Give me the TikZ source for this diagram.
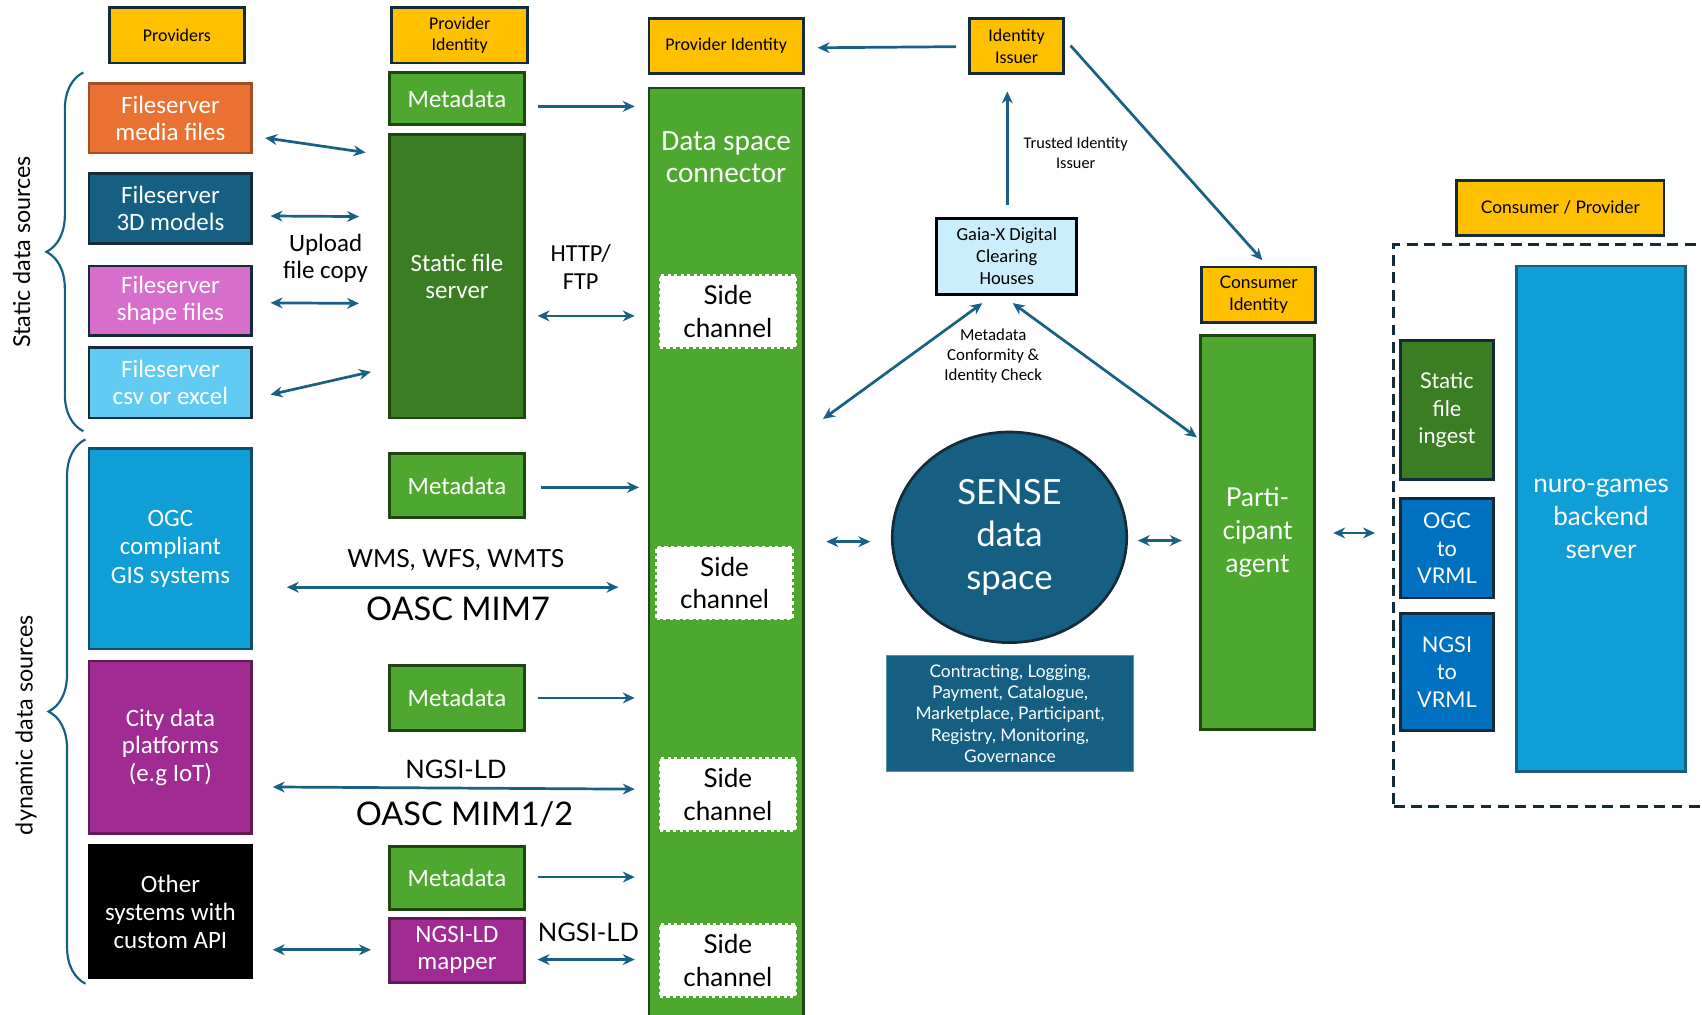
\documentclass[tikz,border=0pt]{standalone}
\usepackage{fontspec}
\setmainfont{Carlito}
\newfontfamily\aptos{Lato}
\usetikzlibrary{arrows.meta, shapes.geometric, calc, decorations.pathreplacing}

\definecolor{idyellow}{RGB}{255,192,0}
\definecolor{navy}{RGB}{22,43,58}
\definecolor{arrowblue}{RGB}{24,96,132}
\definecolor{mediaorange}{RGB}{233,113,50}
\definecolor{modelblue}{RGB}{21,96,130}
\definecolor{shapepink}{RGB}{216,110,204}
\definecolor{csvblue}{RGB}{97,203,243}
\definecolor{gisblue}{RGB}{15,158,213}
\definecolor{citypurple}{RGB}{160,43,147}
\definecolor{metagreen}{RGB}{78,167,46}
\definecolor{darkgreen}{RGB}{59,125,35}
\definecolor{edgegreen}{RGB}{30,70,18}
\definecolor{gaiablue}{RGB}{202,238,251}
\definecolor{vrmlblue}{RGB}{0,112,192}

\tikzset{> = { Stealth[length = 11pt, width = 10pt] }}
\tikzstyle{box} = [draw, rectangle, line width = 2.5pt, inner sep = 0pt, align = center, text = white, font = \fontsize{23}{25}\selectfont]
\tikzstyle{idbox} = [box, fill = idyellow, draw = navy, text = black, font = \fontsize{16.5}{20}\selectfont]
\tikzstyle{source} = [box, minimum width = 150pt]
\tikzstyle{meta} = [box, fill = metagreen, draw = edgegreen, minimum width = 124pt]
\tikzstyle{sidebox} = [box, fill = white, draw = white, dashed, text = black, minimum width = 125pt, minimum height = 66pt, font = \aptos\fontsize{24}{30}\selectfont]
\tikzstyle{link} = [<->, line width = 2.5pt, draw = arrowblue]
\tikzstyle{feed} = [->, line width = 2.5pt, draw = arrowblue]
\tikzstyle{curly} = [draw = modelblue, line width = 2pt, decorate, decoration = {brace, amplitude = 34pt}]

\begin{document}
\begin{tikzpicture}[x = 1pt, y = -1pt]
	\useasboundingbox (0, 0) rectangle (1568, 935);

	% Identities.
	\node [idbox, minimum width = 124pt, minimum height = 51pt] (providers) at (163, 32.5) {Providers};
	\node [idbox, minimum width = 125pt, minimum height = 51pt] (provid) at (423.5, 32.5) {Provider\\Identity};
	\node [idbox, minimum width = 142pt, minimum height = 51pt] (dscid) at (669, 42.5) {Provider Identity};
	\node [idbox, minimum width = 87pt, minimum height = 51pt] (issuer) at (936.5, 42.5) {Identity\\Issuer};
	\node [idbox, minimum width = 191pt, minimum height = 51pt, font = \aptos\fontsize{16}{20}\selectfont] (conprov) at (1437.5, 191.5) {Consumer / Provider};
	\node [idbox, minimum width = 105pt, minimum height = 51pt, font = \aptos\fontsize{16}{20}\selectfont] (conid) at (1159.5, 271.5) {Consumer\\Identity};

	% Static sources.
	\node [source, fill = mediaorange, draw = mediaorange!70!black, minimum height = 64pt] (media) at (157, 109) {Fileserver\\media files};
	\node [source, fill = modelblue, draw = navy, minimum height = 64pt] (models) at (157, 192) {Fileserver\\3D models};
	\node [source, fill = shapepink, draw = navy, minimum height = 64pt] (shape) at (157, 277) {Fileserver\\shape files};
	\node [source, fill = csvblue, draw = navy, minimum height = 65pt] (csv) at (157, 352.5) {Fileserver\\csv or excel};

	% Dynamic sources.
	\node [source, fill = gisblue, draw = modelblue!80!black, minimum height = 185pt, font = \fontsize{23}{26}\selectfont] (ogc) at (157, 505.5) {OGC\\compliant\\GIS systems};
	\node [source, fill = citypurple, draw = citypurple!60!black, minimum height = 159pt] (city) at (157, 688.5) {City data\\platforms\\(e.g IoT)};
	\node [source, fill = black, draw = black, minimum height = 122pt, font = \fontsize{23}{26}\selectfont] (other) at (157, 840) {Other\\systems with\\custom API};

	\draw [curly] ($(csv.south west) + (-4, 11)$) to ($(media.north west) + (-4, -9)$);
	\draw [curly] ($(other.south west) + (-2, 4)$) to ($(ogc.north west) + (-2, -7)$);
	\node [rotate = 90, font = \aptos\fontsize{21.5}{25}\selectfont] (staticlbl) at (20, 232) {Static data sources};
	\node [rotate = 90, font = \aptos\fontsize{21.5}{25}\selectfont] (dynlbl) at (24, 668) {dynamic data sources};

	% Metadata and servers.
	\node [meta, minimum height = 48pt] (meta1) at (421, 91) {Metadata};
	\node [box, fill = darkgreen, draw = edgegreen, minimum width = 124pt, minimum height = 261pt] (sfs) at (421, 254.5) {Static file\\server};
	\node [meta, minimum height = 59pt] (meta2) at (421, 447.5) {Metadata};
	\node [meta, minimum height = 60pt] (meta3) at (421, 643) {Metadata};
	\node [meta, minimum height = 58pt] (meta4) at (421, 809) {Metadata};
	\node [box, fill = citypurple, draw = citypurple!60!black, minimum width = 124pt, minimum height = 59pt] (mapper) at (421, 875.5) {NGSI-LD\\mapper};

	% Connector.
	\node [box, fill = metagreen, draw = edgegreen, minimum width = 142pt, minimum height = 869pt] (dsc) at (669, 515.5) {};
	\node [text = white, align = center, font = \fontsize{27}{30}\selectfont] (dsctitle) at (669, 145) {Data space\\connector};
	\node [sidebox] (side1) at (670.5, 287) {Side\\channel};
	\node [sidebox] (side2) at (667.5, 537) {Side\\channel};
	\node [sidebox] (side3) at (670.5, 732) {Side\\channel};
	\node [sidebox] (side4) at (670.5, 885) {Side\\channel};

	% Upload arrows.
	\draw [link] ($(media.east) + (11, 18)$) to ($(sfs.west) + (-21, -114)$);
	\draw [link] ($(models.east) + (16, 7)$) to ($(sfs.west) + (-27, -55)$);
	\draw [link] ($(shape.east) + (16, 2)$) to ($(sfs.west) + (-27, 25)$);
	\draw [link] ($(csv.east) + (16, 11)$) to ($(sfs.west) + (-16, 88)$);
	\node [align = center, font = \fontsize{23}{25}\selectfont] (upload) at (300, 238) {Upload\\file copy};

	% Into the connector.
	\draw [feed] ($(meta1.east) + (11, 7)$) to ($(meta1.east -| dsc.west) + (-12, 7)$);
	\draw [link] ($(sfs.east) + (11, 36.5)$) to ($(sfs.east -| dsc.west) + (-12, 36.5)$);
	\node [align = center, font = \fontsize{22.5}{25}\selectfont] (http) at (535, 246) {HTTP/\\FTP};
	\draw [feed] ($(meta2.east) + (14, 1.5)$) to ($(meta2.east -| dsc.west) + (-8, 1.5)$);
	\draw [link] ($(ogc.east) + (31, 35.5)$) to ($(ogc.east -| dsc.west) + (-27, 35.5)$);
	\node [font = \aptos\fontsize{23}{25}\selectfont] (wms) at (420, 516) {WMS, WFS, WMTS};
	\node [font = \aptos\fontsize{30}{34}\selectfont] (mim7) at (422, 561) {OASC MIM7};
	\draw [feed] ($(meta3.east) + (11, 0)$) to ($(meta3.east -| dsc.west) + (-12, 0)$);
	\draw [link] ($(city.east) + (18, 36.5)$) to ($(city.east -| dsc.west) + (-12, 38.5)$);
	\node [font = \aptos\fontsize{23.5}{25}\selectfont] (ngsi) at (420, 709) {NGSI-LD};
	\node [font = \aptos\fontsize{30}{34}\selectfont] (mim12) at (428, 750) {OASC MIM1/2};
	\draw [feed] ($(meta4.east) + (11, -1)$) to ($(meta4.east -| dsc.west) + (-12, -1)$);
	\draw [link] ($(other.east) + (18, 35)$) to ($(mapper.west) + (-16, -0.5)$);
	\draw [link] ($(mapper.east) + (11, 8.5)$) to ($(mapper.east -| dsc.west) + (-12, 8.5)$);
	\node [font = \aptos\fontsize{23.5}{25}\selectfont] (ngsi2) at (542, 859) {NGSI-LD};

	% Clearing house.
	\node [box, fill = gaiablue, draw = black, text = black, minimum width = 129pt, minimum height = 70pt, font = \fontsize{17}{20}\selectfont] (gaia) at (927.5, 236) {Gaia-X Digital\\Clearing\\Houses};
	\draw [feed] ($(issuer.west) + (-11, 0.5)$) to ($(dscid.east) + (12, 1.5)$);
	\draw [feed] ($(gaia.north) + (0.5, -11)$) to ($(issuer.south) + (-8.5, 15)$);
	\node [align = center, font = \fontsize{15}{19}\selectfont] (trusted) at (991, 141) {Trusted Identity\\Issuer};
	\draw [feed] ($(issuer.east) + (5, -0.5)$) to ($(conid.north) + (3.5, -5)$);

	% Data space.
	\node [ellipse, draw = navy, line width = 2.5pt, fill = modelblue, text = white, minimum width = 216pt, minimum height = 194pt, inner sep = 0pt, align = center, font = \aptos\fontsize{32}{39}\selectfont] (sense) at (930, 495) {SENSE\\data\\space};
	\node [box, fill = modelblue, draw = modelblue!70!white, line width = 1pt, minimum width = 227pt, minimum height = 107pt, font = \aptos\fontsize{16}{19.5}\selectfont] (services) at (930.5, 657.5) {Contracting, Logging,\\Payment, Catalogue,\\Marketplace, Participant,\\Registry, Monitoring,\\Governance};
	\node [box, fill = metagreen, draw = edgegreen, minimum width = 105pt, minimum height = 363pt, font = \aptos\fontsize{24}{30.5}\selectfont] (agent) at (1158.5, 490.5) {Parti-\\cipant\\agent};

	\draw [link] ($(gaia.south) + (-22.5, 7)$) to ($(dsc.east) + (17, -129.5)$);
	\draw [link] ($(gaia.south) + (5.5, 7)$) to ($(agent.west) + (-2, -87.5)$);
	\node [align = center, font = \fontsize{15.5}{18}\selectfont] (check) at (915, 328) {Metadata\\Conformity \&\\Identity Check};
	\draw [link] ($(dsc.east) + (20, -16.5)$) to ($(sense.west) + (-19, 4)$);
	\draw [link] ($(sense.east) + (9, 3)$) to ($(agent.west) + (-16, 7.5)$);

	% Consumer side.
	\node [draw = navy, dashed, dash pattern = on 10pt off 6pt, line width = 2.5pt, rectangle, minimum width = 296pt, minimum height = 518pt] (consumer) at (1432, 484) {};
	\node [box, fill = darkgreen, draw = navy, minimum width = 86pt, minimum height = 128pt, font = \aptos\fontsize{20}{25.5}\selectfont] (ingest) at (1333, 378) {Static\\file\\ingest};
	\node [box, fill = vrmlblue, draw = navy, minimum width = 86pt, minimum height = 92pt, font = \aptos\fontsize{20}{25.5}\selectfont] (ogcv) at (1333, 505) {OGC\\to\\VRML};
	\node [box, fill = vrmlblue, draw = navy, minimum width = 86pt, minimum height = 108pt, font = \aptos\fontsize{20}{25.5}\selectfont] (ngsiv) at (1333, 619) {NGSI\\to\\VRML};
	\node [box, fill = gisblue, draw = modelblue, minimum width = 156pt, minimum height = 466pt, font = \aptos\fontsize{24}{30}\selectfont] (nuro) at (1475, 478) {nuro-games\\backend\\server};
	\draw [link] ($(agent.east) + (16, 0.5)$) to ($(consumer.west) + (-16, 7)$);
\end{tikzpicture}
\end{document}
